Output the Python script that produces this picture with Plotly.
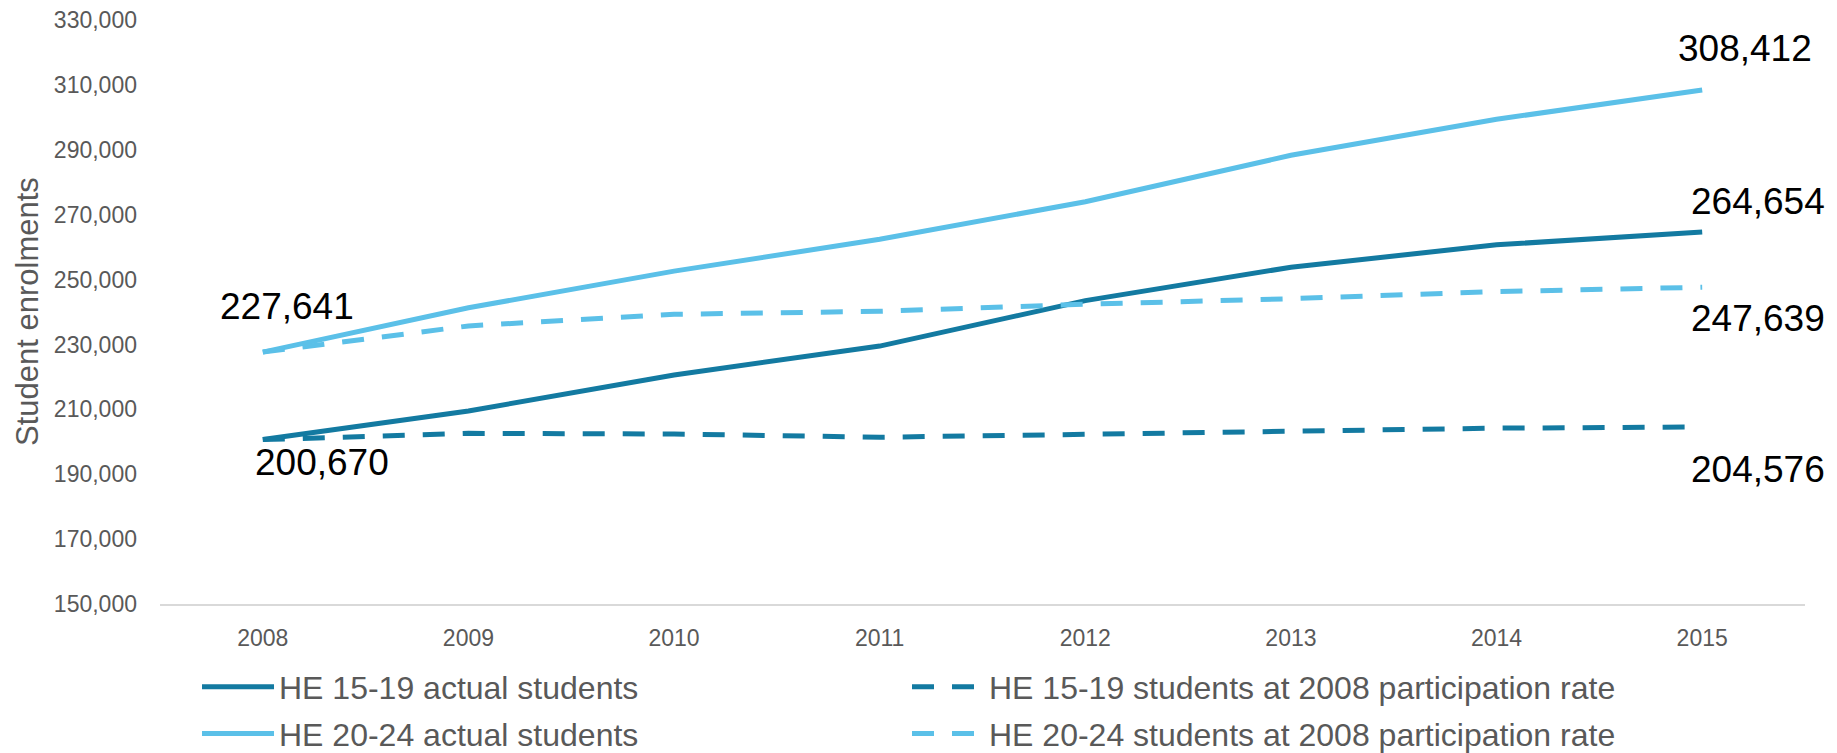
import plotly.graph_objects as go

# Enrolment series, 2008-2015
years = ["2008", "2009", "2010", "2011", "2012", "2013", "2014", "2015"]
he_15_19_actual = [200670, 209500, 220600, 229500, 243500, 253800, 260700, 264654]
he_20_24_actual = [227641, 241300, 252600, 262400, 274000, 288300, 299400, 308412]
he_15_19_at_2008_rate = [200670, 202600, 202400, 201400, 202300, 203300, 204200, 204576]
he_20_24_at_2008_rate = [227641, 235700, 239300, 240200, 242400, 244100, 246300, 247639]

series_names = [
    "HE 15-19 actual students",
    "HE 15-19 students at 2008 participation rate",
    "HE 20-24 actual students",
    "HE 20-24 students at 2008 participation rate",
]

DARK = "#137AA1"
LIGHT = "#5BC0E8"
GREY = "#595959"
FONT = "Arial, Liberation Sans, sans-serif"
DASH = "22px,18px"

fig = go.Figure()
# first legend row: 15-19 series, second legend row: 20-24 series
traces = [
    (he_15_19_actual, series_names[0], DARK, "solid", "legend"),
    (he_15_19_at_2008_rate, series_names[1], DARK, DASH, "legend"),
    (he_20_24_actual, series_names[2], LIGHT, "solid", "legend2"),
    (he_20_24_at_2008_rate, series_names[3], LIGHT, DASH, "legend2"),
]
for values, name, color, dash, leg in traces:
    fig.add_trace(go.Scatter(
        x=years, y=values, name=name, mode="lines", legend=leg,
        line=dict(color=color, width=5, dash=dash),
    ))

first, last = 0, len(years) - 1
# Value labels at the start and end of the lines: (category index, value, xshift, yshift)
labels = [
    (first, he_20_24_actual[first], 24, 46),
    (first, he_15_19_actual[first], 59, -23),
    (last, he_20_24_actual[last], 43, 42),
    (last, he_15_19_actual[last], 56, 31),
    (last, he_20_24_at_2008_rate[last], 56, -31),
    (last, he_15_19_at_2008_rate[last], 56, -43),
]
for x, v, dx, dy in labels:
    fig.add_annotation(
        x=x, y=v, xref="x", yref="y", text=f"{v:,}", showarrow=False,
        xanchor="center", yanchor="middle", xshift=dx, yshift=dy,
        font=dict(family=FONT, size=37, color="#000000"),
    )

# Rotated axis title
fig.add_annotation(
    x=0, y=0.5, xref="paper", yref="paper", text="Student enrolments",
    showarrow=False, textangle=-90, xanchor="center", yanchor="middle",
    xshift=-133, font=dict(family=FONT, size=31, color=GREY),
)

legend_style = dict(
    orientation="h", x=0.0225, xanchor="left", yanchor="top",
    entrywidth=623, entrywidthmode="pixels",
    font=dict(family=FONT, size=32, color=GREY),
    itemwidth=72, bgcolor="rgba(0,0,0,0)", borderwidth=0,
)

fig.update_layout(
    width=1837, height=753,
    margin=dict(l=160, r=32, t=20, b=149, autoexpand=False),
    paper_bgcolor="white", plot_bgcolor="white",
    font=dict(family=FONT, color=GREY),
    showlegend=True,
    legend=dict(y=-0.095, **legend_style),
    legend2=dict(y=-0.175, **legend_style),
    xaxis=dict(
        type="category", range=[-0.5, 7.5],
        showgrid=False, showline=True, linecolor="#D9D9D9", linewidth=2,
        ticks="", tickfont=dict(family=FONT, size=23, color=GREY),
        ticklabelstandoff=12, zeroline=False,
    ),
    yaxis=dict(
        range=[150000, 330000], dtick=20000, tick0=150000,
        tickformat=",", showgrid=False, showline=False, zeroline=False,
        ticks="", tickfont=dict(family=FONT, size=23, color=GREY),
        ticklabelstandoff=22,
    ),
)

fig.write_html("out.html")
